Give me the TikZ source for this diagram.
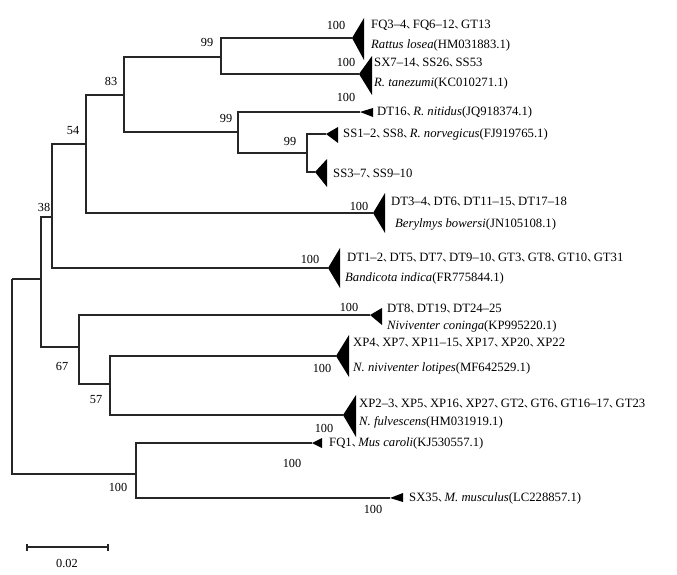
\documentclass[tikz,border=0pt]{standalone}
\usepackage{fontspec}
\setmainfont{Liberation Serif}
\newfontfamily\cjk{Noto Sans CJK SC}
\newcommand\dun{\makebox[6.5pt][l]{\cjk\fontsize{10}{12}\selectfont 、}}
\begin{document}
\begin{tikzpicture}[x=1pt,y=-1pt,
  br/.style={line width=1.2pt,draw=black!85},
  tri/.style={fill=black},
  lab/.style={inner sep=0pt,anchor=west,font=\fontsize{12.7}{14}\selectfont},
  bs/.style={inner sep=0pt,font=\fontsize{12.3}{14}\selectfont}]
\useasboundingbox[fill=white] (0,0) rectangle (677,575);
% internal nodes
\coordinate (R) at (12,279);
\coordinate (A) at (41,279);
\coordinate (B) at (52,217);
\coordinate (C) at (86,144);
\coordinate (D) at (124,95);
\coordinate (E) at (221,57);
\coordinate (F) at (238,132);
\coordinate (G) at (307,153);
\coordinate (H) at (79,347);
\coordinate (K) at (110,384);
\coordinate (M) at (136,474);
% tips
\coordinate (tlos) at (352,38);
\coordinate (ttan) at (359,74);
\coordinate (tnit) at (360,112);
\coordinate (tnor) at (326,134);
\coordinate (tss) at (315,172);
\coordinate (tber) at (373,213);
\coordinate (tban) at (328,268);
\coordinate (tcon) at (370,315);
\coordinate (tlot) at (336,356);
\coordinate (tful) at (343,415);
\coordinate (tcar) at (312,443);
\coordinate (tmus) at (390,498);
% branches
\draw[br] (R) |- (A);
\draw[br] (R) |- (M);
\draw[br] (A) |- (B);
\draw[br] (A) |- (H);
\draw[br] (B) |- (C);
\draw[br] (B) |- (tban);
\draw[br] (C) |- (D);
\draw[br] (C) |- (tber);
\draw[br] (D) |- (E);
\draw[br] (D) |- (F);
\draw[br] (E) |- (tlos);
\draw[br] (E) |- (ttan);
\draw[br] (F) |- (tnit);
\draw[br] (F) |- (G);
\draw[br] (G) |- (tnor);
\draw[br] (G) |- (tss);
\draw[br] (H) |- (tcon);
\draw[br] (H) |- (K);
\draw[br] (K) |- (tlot);
\draw[br] (K) |- (tful);
\draw[br] (M) |- (tcar);
\draw[br] (M) |- (tmus);
% collapsed clades
\fill[tri] (tlos) -- ++(12,-20) -- ++(0,42) -- cycle;
\fill[tri] (ttan) -- ++(13,-18) -- ++(0,39) -- cycle;
\fill[tri] (tnit) -- ++(13,-4) -- ++(0,9) -- cycle;
\fill[tri] (tnor) -- ++(12,-7) -- ++(0,16) -- cycle;
\fill[tri] (tss) -- ++(12,-13) -- ++(0,28) -- cycle;
\fill[tri] (tber) -- ++(12,-20) -- ++(0,40) -- cycle;
\fill[tri] (tban) -- ++(12,-20) -- ++(0,40) -- cycle;
\fill[tri] (tcon) -- ++(12,-7) -- ++(0,17) -- cycle;
\fill[tri] (tlot) -- ++(13,-21) -- ++(0,42) -- cycle;
\fill[tri] (tful) -- ++(13,-20) -- ++(0,42) -- cycle;
\fill[tri] (tcar) -- ++(10,-5) -- ++(0,10) -- cycle;
\fill[tri] (tmus) -- ++(13,-5) -- ++(0,9) -- cycle;
% tip labels
\node[lab] (los1) at (371,25) {FQ3–4\dun FQ6–12\dun GT13};
\node[lab] (los2) at (371,45) {\textit{Rattus losea}(HM031883.1)};
\node[lab] (tan1) at (374,63) {SX7–14\dun SS26\dun SS53};
\node[lab] (tan2) at (374,83) {\textit{R. tanezumi}(KC010271.1)};
\node[lab] (nit) at (377,112) {DT16\dun \textit{R. nitidus}(JQ918374.1)};
\node[lab] (nor) at (343,134) {SS1–2\dun SS8\dun \textit{R. norvegicus}(FJ919765.1)};
\node[lab] (ss) at (333,174) {SS3–7\dun SS9–10};
\node[lab] (ber1) at (391,202) {DT3–4\dun DT6\dun DT11–15\dun DT17–18};
\node[lab] (ber2) at (395,224) {\textit{Berylmys bowersi}(JN105108.1)};
\node[lab] (ban1) at (347,258) {DT1–2\dun DT5\dun DT7\dun DT9–10\dun GT3\dun GT8\dun GT10\dun GT31};
\node[lab] (ban2) at (345,278) {\textit{Bandicota indica}(FR775844.1)};
\node[lab] (con1) at (387,309) {DT8\dun DT19\dun DT24–25};
\node[lab] (con2) at (387,326) {\textit{Niviventer coninga}(KP995220.1)};
\node[lab] (lot1) at (353,343) {XP4\dun XP7\dun XP11–15\dun XP17\dun XP20\dun XP22};
\node[lab] (lot2) at (353,368) {\textit{N. niviventer lotipes}(MF642529.1)};
\node[lab] (ful1) at (359,404) {XP2–3\dun XP5\dun XP16\dun XP27\dun GT2\dun GT6\dun GT16–17\dun GT23};
\node[lab] (ful2) at (359,422) {\textit{N. fulvescens}(HM031919.1)};
\node[lab] (car) at (329,443) {FQ1\dun \textit{Mus caroli}(KJ530557.1)};
\node[lab] (mus) at (409,498) {SX35\dun \textit{M. musculus}(LC228857.1)};
% bootstrap values
\node[bs] (b1) at (336,25) {100};
\node[bs] (b2) at (346,62) {100};
\node[bs] (b3) at (346,97) {100};
\node[bs] (b4) at (207,42) {99};
\node[bs] (b5) at (111,81) {83};
\node[bs] (b6) at (73,131) {54};
\node[bs] (b7) at (44,207) {38};
\node[bs] (b8) at (226,118) {99};
\node[bs] (b9) at (290,141) {99};
\node[bs] (b10) at (359,206) {100};
\node[bs] (b11) at (310,259) {100};
\node[bs] (b12) at (349,307) {100};
\node[bs] (b13) at (62,366) {67};
\node[bs] (b14) at (96,400) {57};
\node[bs] (b15) at (322,368) {100};
\node[bs] (b16) at (324,428) {100};
\node[bs] (b17) at (292,463) {100};
\node[bs] (b18) at (118,487) {100};
\node[bs] (b19) at (373,509) {100};
% scale bar
\coordinate (s1) at (27,547);
\coordinate (s2) at (108,547);
\draw[br] (s1) -- (s2);
\draw[br] ([yshift=-3.5pt]s1) -- ([yshift=3.5pt]s1);
\draw[br] ([yshift=-3.5pt]s2) -- ([yshift=3.5pt]s2);
\node[bs] (sc) at (67,563) {0.02};
\end{tikzpicture}
\end{document}
